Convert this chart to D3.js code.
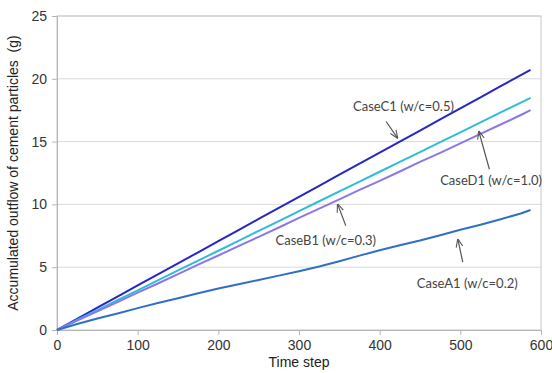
<!DOCTYPE html>
<html lang="en">
<head>
<meta charset="UTF-8">
<title>Accumulated outflow of cement particles</title>
<style>
  * { margin: 0; padding: 0; }
  body { background: #fff; width: 552px; height: 373px; overflow: hidden; }
  .tick text { font-family: 'Liberation Sans', Arial, sans-serif; font-size: 14px; fill: #333; }
  .axis-title { font-family: 'Liberation Sans', Arial, sans-serif; font-size: 14px; fill: #222; }
  .note { font-family: Lato, 'Open Sans', sans-serif; font-size: 13px; fill: #444; }
</style>
</head>
<body>
<div id="chart"></div>
<script src="https://d3js.org/d3.v7.min.js"></script>
<script>
// time steps shared by all series
const steps = [0, 25, 50, 75, 100, 125, 150, 175, 200, 225, 250, 275, 300, 325, 350, 375, 400, 425, 450, 475, 500, 525, 550, 575, 587];

const caseC1 = [0, 0.88, 1.78, 2.66, 3.55, 4.43, 5.30, 6.19, 7.07, 7.95, 8.84, 9.72, 10.60, 11.48, 12.37, 13.25, 14.12, 15.00, 15.88, 16.77, 17.65, 18.53, 19.41, 20.29, 20.72];
const caseD1 = [0, 0.80, 1.59, 2.37, 3.16, 3.95, 4.74, 5.52, 6.31, 7.10, 7.89, 8.67, 9.46, 10.25, 11.03, 11.81, 12.60, 13.38, 14.17, 14.96, 15.74, 16.53, 17.32, 18.10, 18.48];
const caseB1 = [0, 0.74, 1.48, 2.22, 2.97, 3.70, 4.45, 5.20, 5.93, 6.68, 7.42, 8.16, 8.92, 9.66, 10.40, 11.15, 11.88, 12.62, 13.38, 14.10, 14.86, 15.62, 16.36, 17.12, 17.50];
const caseA1 = [0, 0.48, 0.92, 1.32, 1.74, 2.15, 2.52, 2.92, 3.30, 3.65, 3.98, 4.33, 4.68, 5.05, 5.48, 5.92, 6.35, 6.74, 7.12, 7.55, 7.98, 8.38, 8.82, 9.28, 9.55];

const seriesNames = ["CaseC1", "CaseD1", "CaseB1", "CaseA1"];
const seriesValues = [caseC1, caseD1, caseB1, caseA1];
const seriesColors = ["#2626c4", "#30bcd8", "#8a78e6", "#2f6fc8"];

const xTicks = [0, 100, 200, 300, 400, 500, 600];
const yTicks = [0, 5, 10, 15, 20, 25];

// annotations: label, text anchor point [step, value], arrow from/to [step, value]
const notes = [
  { text: "CaseC1 (w/c=0.5)", at: [367, 17.8], from: [408, 16.6], to: [422, 15.3] },
  { text: "CaseD1 (w/c=1.0)", at: [475, 11.9], from: [536, 12.8], to: [523, 15.8] },
  { text: "CaseB1 (w/c=0.3)", at: [271, 7.1], from: [358, 8.3], to: [348, 10.0] },
  { text: "CaseA1 (w/c=0.2)", at: [446, 3.7], from: [503, 5.4], to: [497, 7.2] }
];

const W = 552, H = 373;
const margin = { top: 16, right: 11, bottom: 43, left: 57 };
const width = W - margin.left - margin.right;
const height = H - margin.top - margin.bottom;

const svg = d3.select("#chart").append("svg")
  .attr("width", W)
  .attr("height", H);

const defs = svg.append("defs");
defs.append("marker")
  .attr("id", "arrow")
  .attr("viewBox", "0 0 10 10")
  .attr("refX", 9).attr("refY", 5)
  .attr("markerWidth", 7).attr("markerHeight", 7)
  .attr("orient", "auto")
  .append("path")
  .attr("d", "M0,1 L10,5 L0,9")
  .attr("fill", "none")
  .attr("stroke", "#555")
  .attr("stroke-width", 1.3);

const g = svg.append("g").attr("transform", `translate(${margin.left},${margin.top})`);

const x = d3.scaleLinear().domain([0, 600]).range([0, width]);
const y = d3.scaleLinear().domain([0, 25]).range([height, 0]);

// gridlines
g.append("g")
  .selectAll("line")
  .data(yTicks.slice(1))
  .enter().append("line")
  .attr("x1", 0).attr("x2", width)
  .attr("y1", d => y(d)).attr("y2", d => y(d))
  .attr("stroke", "#d9d9d9").attr("stroke-width", 1);

// plot border
g.append("rect")
  .attr("x", 0).attr("y", 0)
  .attr("width", width).attr("height", height)
  .attr("fill", "none").attr("stroke", "#c8c8c8");

const xAxis = g.append("g")
  .attr("transform", `translate(0,${height})`)
  .call(d3.axisBottom(x).tickValues(xTicks).tickSize(5).tickPadding(5).tickSizeOuter(0));
xAxis.select(".domain").attr("stroke", "#b5b5b5");
xAxis.selectAll(".tick line").attr("stroke", "#b5b5b5");

const yAxis = g.append("g")
  .call(d3.axisLeft(y).tickValues(yTicks).tickSize(5).tickPadding(5).tickSizeOuter(0));
yAxis.select(".domain").attr("stroke", "#b5b5b5");
yAxis.selectAll(".tick line").attr("stroke", "#b5b5b5");

// series lines
const line = d3.line()
  .x((d, i) => x(steps[i]))
  .y(d => y(d));

seriesValues.forEach((vals, k) => {
  g.append("path")
    .datum(vals)
    .attr("fill", "none")
    .attr("stroke", seriesColors[k])
    .attr("stroke-width", 2)
    .attr("stroke-linejoin", "round")
    .attr("d", line);
});

// annotations
notes.forEach(n => {
  g.append("text")
    .attr("class", "note")
    .attr("x", x(n.at[0]))
    .attr("y", y(n.at[1]))
    .attr("dy", "0.35em")
    .text(n.text);
  g.append("line")
    .attr("x1", x(n.from[0])).attr("y1", y(n.from[1]))
    .attr("x2", x(n.to[0])).attr("y2", y(n.to[1]))
    .attr("stroke", "#555").attr("stroke-width", 1.2)
    .attr("marker-end", "url(#arrow)");
});

// axis titles
svg.append("text")
  .attr("class", "axis-title")
  .attr("x", margin.left + width / 2)
  .attr("y", 367)
  .attr("text-anchor", "middle")
  .text("Time step");

svg.append("text")
  .attr("class", "axis-title")
  .attr("transform", `translate(18,${margin.top + height / 2}) rotate(-90)`)
  .attr("text-anchor", "middle")
  .attr("xml:space", "preserve")
  .text("Accumulated outflow of cement particles  (g)");
</script>
</body>
</html>
